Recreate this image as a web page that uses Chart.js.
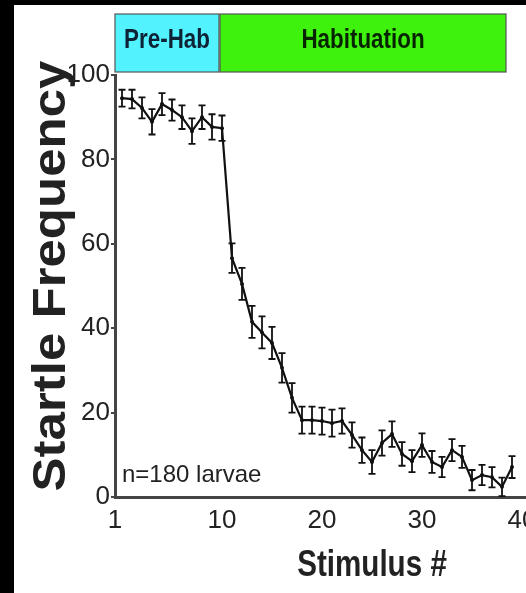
<!DOCTYPE html>
<html>
<head>
<meta charset="utf-8">
<script src="https://cdn.jsdelivr.net/npm/chart.js@4.4.0/dist/chart.umd.min.js"></script>
<style>
  html, body { margin: 0; padding: 0; background: #000; width: 526px; height: 593px; overflow: hidden; }
  #cadre { position: absolute; left: 14px; top: 5px; width: 640px; height: 588px; background: #fff; }
</style>
</head>
<body>
<div id="cadre"><canvas id="habChart" width="640" height="588"></canvas></div>
<script>
// Données (fréquence de sursaut moyenne, en %)
const stimulus = [1, 2, 3, 4, 5, 6, 7, 8, 9, 10,
  11, 12, 13, 14, 15, 16, 17, 18, 19, 20,
  21, 22, 23, 24, 25, 26, 27, 28, 29, 30,
  31, 32, 33, 34, 35, 36, 37, 38, 39, 40];
const startleFreq = [94.5, 94.3, 92.2, 88.9, 93.1, 91.7, 90.0, 86.7, 90.0, 87.7,
  87.4, 56.6, 50.5, 41.5, 39.0, 36.5, 30.6, 23.5, 18.2, 18.2,
  18.0, 17.5, 18.0, 14.7, 11.1, 8.3, 12.8, 14.9, 10.2, 8.5,
  12.3, 8.3, 7.1, 11.1, 9.5, 4.0, 5.2, 4.7, 2.4, 7.1];
const startleSem = [2.0, 2.2, 2.5, 3.0, 2.6, 2.5, 2.8, 3.0, 2.8, 3.0,
  3.0, 3.5, 3.8, 3.8, 3.8, 3.8, 3.5, 3.5, 3.2, 3.2,
  3.2, 3.2, 3.0, 3.0, 3.0, 2.8, 3.0, 3.0, 2.8, 2.6,
  2.8, 2.6, 2.4, 2.6, 2.6, 2.4, 2.4, 2.4, 2.2, 2.6];

const xTickValues = [0.3, 11, 21, 31, 41];
const xTickLabels = ["1", "10", "20", "30", "40"];

const phaseLabels = ["Pre-Hab", "Habituation"];
const phaseStart = [0.3, 10.8];
const phaseEnd = [10.7, 39.4];
const phaseColors = ["#52f2ff", "#3ef20e"];

const xTitle = "Stimulus #";
const yTitle = "Startle Frequency";
const nLabel = "n=180 larvae";

const police = "'Liberation Sans', Arial, sans-serif";

// Texte étroit (la figure d'origine utilise une police condensée)
function texteEtroit(ctx, txt, x, y, font, sx, sy, rot) {
  ctx.save();
  ctx.translate(x, y);
  if (rot) ctx.rotate(rot);
  ctx.scale(sx, sy);
  ctx.font = font;
  ctx.textAlign = "center";
  ctx.textBaseline = "alphabetic";
  ctx.fillText(txt, 0, 0);
  ctx.restore();
}

// Barres d'erreur, bandeau des phases, titres et effectif
const extras = {
  id: "extras",
  afterDatasetsDraw(chart) {
    const ctx = chart.ctx;
    const xs = chart.scales.x, ys = chart.scales.y;
    ctx.save();
    ctx.strokeStyle = "#111";
    ctx.lineWidth = 1.8;
    stimulus.forEach((s, i) => {
      const px = xs.getPixelForValue(s);
      const top = ys.getPixelForValue(startleFreq[i] + startleSem[i]);
      const bot = ys.getPixelForValue(startleFreq[i] - startleSem[i]);
      ctx.beginPath();
      ctx.moveTo(px, top); ctx.lineTo(px, bot);
      ctx.moveTo(px - 3.5, top); ctx.lineTo(px + 3.5, top);
      ctx.moveTo(px - 3.5, bot); ctx.lineTo(px + 3.5, bot);
      ctx.stroke();
    });
    ctx.restore();
  },
  afterDraw(chart) {
    const ctx = chart.ctx;
    const xs = chart.scales.x;
    const area = chart.chartArea;
    const boxTop = 9, boxH = 58;
    ctx.save();
    phaseLabels.forEach((lab, i) => {
      const x0 = xs.getPixelForValue(phaseStart[i]);
      const x1 = xs.getPixelForValue(phaseEnd[i]);
      ctx.fillStyle = phaseColors[i];
      ctx.fillRect(x0, boxTop, x1 - x0, boxH);
      ctx.strokeStyle = "#555";
      ctx.lineWidth = 1.2;
      ctx.strokeRect(x0, boxTop, x1 - x0, boxH);
      ctx.fillStyle = i == 0 ? "#0d2235" : "#062400";
      texteEtroit(ctx, lab, (x0 + x1) / 2, boxTop + 34, "bold 28px " + police, 0.8, 1);
    });

    ctx.fillStyle = "#222";
    // titre de l'axe des x
    texteEtroit(ctx, xTitle, 358, 571, "bold 37px " + police, 0.8, 1);
    // titre de l'axe des y
    texteEtroit(ctx, yTitle, 51, (area.top + area.bottom) / 2 - 10, "bold 51px " + police, 1, 0.92, -Math.PI / 2);

    ctx.font = "24px " + police;
    ctx.textAlign = "left";
    ctx.textBaseline = "alphabetic";
    ctx.fillText(nLabel, area.left + 7, area.bottom - 15);
    ctx.restore();
  }
};

const ctx = document.getElementById("habChart").getContext("2d");
const myChart = new Chart(ctx, {
  type: "line",
  data: {
    datasets: [{
      data: stimulus.map((s, i) => ({ x: s, y: startleFreq[i] })),
      borderColor: "#111",
      borderWidth: 2.2,
      pointRadius: 2,
      pointBackgroundColor: "#111",
      pointBorderWidth: 0,
      tension: 0,
    }],
  },
  options: {
    responsive: false,
    animation: false,
    layout: { padding: { top: 70, right: 25, bottom: 0, left: 0 } },
    plugins: { legend: { display: false }, tooltip: { enabled: false } },
    scales: {
      x: {
        type: "linear",
        min: 0.3,
        max: 51.7,
        afterBuildTicks: (s) => { s.ticks = xTickValues.map((v) => ({ value: v })); },
        afterFit: (s) => { s.height = 96; },
        ticks: {
          autoSkip: false,
          maxRotation: 0,
          padding: 8,
          color: "#222",
          font: { family: police, size: 26 },
          callback: (v, i) => xTickLabels[i],
        },
        grid: { drawOnChartArea: false, drawTicks: false },
        border: { color: "#444", width: 3 },
      },
      y: {
        min: 0,
        max: 100,
        afterFit: (s) => { s.width = 101; },
        ticks: {
          stepSize: 20,
          padding: 1,
          color: "#222",
          font: { family: police, size: 26 },
        },
        grid: { drawOnChartArea: false, drawTicks: true, tickLength: 4, color: "#444", lineWidth: 2 },
        border: { color: "#444", width: 3 },
      },
    },
  },
  plugins: [extras],
});
</script>
</body>
</html>
